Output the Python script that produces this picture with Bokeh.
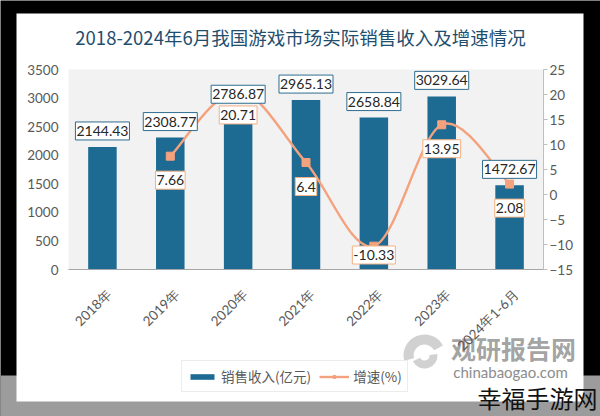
import numpy as np
from bokeh.plotting import figure
from bokeh.models import (Range1d, LinearAxis, FixedTicker, Legend, LegendItem, Label)
from bokeh.core.properties import value
from bokeh.embed import file_html
from bokeh.resources import INLINE

# ---------------- data ----------------
title_text = "2018-2024年6月我国游戏市场实际销售收入及增速情况"
categories = ["2018年", "2019年", "2020年", "2021年", "2022年", "2023年", "2024年1-6月"]
sales = [2144.43, 2308.77, 2786.87, 2965.13, 2658.84, 3029.64, 1472.67]
growth_categories = ["2019年", "2020年", "2021年", "2022年", "2023年", "2024年1-6月"]
growth = [7.66, 20.71, 6.4, -10.33, 13.95, 2.08]
sales_ticks = [0, 500, 1000, 1500, 2000, 2500, 3000, 3500]
growth_ticks = [-15, -10, -5, 0, 5, 10, 15, 20, 25]
sales_name = "销售收入(亿元)"
growth_name = "增速(%)"
watermark_1 = "观研报告网"
watermark_2 = "chinabaogao.com"
watermark_3 = "幸福手游网"

# ---------------- styles / layout ----------------
BAR = "#1D6A93"
LINE = "#F4A27E"
TXT = "#595959"
LAT = "Lato"
CJK = "Noto Sans CJK SC"
W, H = 600, 416                      # canvas = whole page
PL, PR, PT, PB = 68, 543, 69, 269    # plot area in page pixels
ncat = len(categories)
cw = (PR - PL) / ncat
s_lo, s_hi = sales_ticks[0], sales_ticks[-1]
g_lo, g_hi = growth_ticks[0], growth_ticks[-1]

def X(px):  # page x -> x data
    return (px - PL) / cw - 0.5

def Y(py):  # page y -> sales data
    return s_lo + (PB - py) * (s_hi - s_lo) / (PB - PT)

def G(py):  # page y -> growth data
    return g_lo + (PB - py) * (g_hi - g_lo) / (PB - PT)

def SX(px):  # page x -> screen units
    return px

def SY(py):  # page y -> screen units (from bottom)
    return H - py

p = figure(width=W, height=H,
           x_range=Range1d(X(0), X(W)),
           y_range=Range1d(Y(H), Y(0)),
           output_backend="svg", toolbar_location=None,
           min_border=0, min_border_left=0, min_border_right=0,
           min_border_top=0, min_border_bottom=0,
           background_fill_color="black", border_fill_color="black",
           outline_line_color=None)
p.extra_y_ranges = {"g": Range1d(G(H), G(0))}
p.xgrid.visible = False
p.ygrid.visible = False

# frame decoration: grey band, white card, grey plot area
p.quad(left=X(0), right=X(W), bottom=Y(H), top=Y(375),
       fill_color="#9C9C9C", line_color=None)
p.quad(left=X(16), right=X(583), bottom=Y(401), top=Y(13),
       fill_color="white", line_color=None)
p.quad(left=-0.5, right=ncat - 0.5, bottom=s_lo, top=s_hi,
       fill_color="#F2F2F2", line_color=None)

# left axis
ly = p.yaxis[0]
ly.fixed_location = -0.5
ly.bounds = (s_lo, s_hi)
ly.ticker = FixedTicker(ticks=sales_ticks)
ly.axis_line_color = None
ly.major_tick_line_color = None
ly.minor_tick_line_color = None
ly.major_tick_out = 0
ly.major_tick_in = 0
ly.major_label_standoff = 10
ly.major_label_text_font = LAT
ly.major_label_text_font_size = "13.5px"
ly.major_label_text_color = TXT

# right axis
ry = LinearAxis(y_range_name="g", ticker=FixedTicker(ticks=growth_ticks),
                fixed_location=ncat - 0.5, bounds=(g_lo, g_hi))
ry.axis_line_color = "#BFBFBF"
ry.major_tick_line_color = "#BFBFBF"
ry.minor_tick_line_color = None
ry.major_tick_in = 0
ry.major_tick_out = 4
ry.major_label_standoff = 2
ry.major_label_text_font = LAT
ry.major_label_text_font_size = "13.5px"
ry.major_label_text_color = TXT
p.add_layout(ry, "right")

# bottom axis (labels nudged right a little, like the reference)
xs = list(range(ncat))
lab_pos = [i + 0.1 for i in xs]
xa = p.xaxis[0]
xa.fixed_location = s_lo
xa.bounds = (-0.5, ncat - 0.5)
xa.ticker = FixedTicker(ticks=lab_pos)
xa.major_label_overrides = {t: c for t, c in zip(lab_pos, categories)}
xa.axis_line_color = "#A6A6A6"
xa.major_tick_line_color = None
xa.minor_tick_line_color = None
xa.major_tick_out = 0
xa.major_tick_in = 0
xa.major_label_orientation = np.pi / 4
xa.major_label_standoff = 22
xa.major_label_text_font = LAT
xa.major_label_text_font_size = "13.5px"
xa.major_label_text_color = TXT

# bars
bars = p.vbar(x=xs, top=sales, width=0.42, fill_color=BAR, line_color=None)

# smooth growth curve (cubic Bezier through the data points)
gx = np.array([categories.index(c) for c in growth_categories], dtype=float)
gy = np.array(growth, dtype=float)
n = len(gx)
x0s, y0s, x1s, y1s, cx0, cy0, cx1, cy1 = [], [], [], [], [], [], [], []
for i in range(n - 1):
    pxm, pym = (gx[i - 1], gy[i - 1]) if i > 0 else (gx[i], gy[i])
    pxp, pyp = (gx[i + 2], gy[i + 2]) if i + 2 < n else (gx[i + 1], gy[i + 1])
    x0s.append(gx[i]); y0s.append(gy[i]); x1s.append(gx[i + 1]); y1s.append(gy[i + 1])
    cx0.append(gx[i] + (gx[i + 1] - pxm) / 6); cy0.append(gy[i] + (gy[i + 1] - pym) / 6)
    cx1.append(gx[i + 1] - (pxp - gx[i]) / 6); cy1.append(gy[i + 1] - (pyp - gy[i]) / 6)
p.bezier(x0=x0s, y0=y0s, x1=x1s, y1=y1s, cx0=cx0, cy0=cy0, cx1=cx1, cy1=cy1,
         line_color=LINE, line_width=2.4, y_range_name="g")
line_r = p.line(x=gx, y=gy, line_color=LINE, line_width=2.4,
                y_range_name="g", visible=False)
pts = p.scatter(x=gx, y=gy, marker="square", size=8,
                fill_color=LINE, line_color=LINE, y_range_name="g")

# value labels for bars
p.text(x=xs, y=sales, text=[f"{v:.2f}" for v in sales],
       y_offset=-16, anchor="center", text_align="center", text_baseline="middle",
       text_font=value(LAT), text_font_size="14px", text_color="#262626",
       background_fill_color="white", border_line_color="#2E6C8E",
       border_line_width=1, padding=(1, 4))

# value labels for growth
g_lab_y = np.maximum(gy - 4.8, g_lo + 2.9)
p.text(x=gx, y=g_lab_y, text=[f"{v:g}" for v in growth],
       anchor="center", text_align="center", text_baseline="middle",
       text_font=value(LAT), text_font_size="14px", text_color="#262626",
       background_fill_color="white", border_line_color="#F4B183",
       border_line_width=1, padding=(1, 4), y_range_name="g")

# title
p.add_layout(Label(x=SX(300), y=SY(36), x_units="screen", y_units="screen",
                   text=title_text, text_align="center", text_baseline="middle",
                   text_font=CJK, text_font_size="18.5px", text_color="#1F4E6E"))

# legend
legend = Legend(items=[LegendItem(label=sales_name, renderers=[bars]),
                       LegendItem(label=growth_name, renderers=[line_r, pts])],
                location=(SX(181), SY(392)), orientation="horizontal",
                glyph_width=30, glyph_height=7, label_standoff=4, spacing=8,
                padding=5, margin=0, border_line_color="#D9D9D9",
                label_text_font=CJK, label_text_font_size="13.5px",
                label_text_color=TXT, background_fill_color="white")
p.add_layout(legend)

# watermarks
p.annular_wedge(x=[X(424)], y=[Y(355)], inner_radius=11, outer_radius=21,
                inner_radius_units="screen", outer_radius_units="screen",
                start_angle=0.5, end_angle=3.4, fill_color="#9A9A9A", fill_alpha=0.45,
                line_color=None)
p.annular_wedge(x=[X(424)], y=[Y(355)], inner_radius=5, outer_radius=13,
                inner_radius_units="screen", outer_radius_units="screen",
                start_angle=3.6, end_angle=6.4, fill_color="#9A9A9A", fill_alpha=0.45,
                line_color=None)
p.add_layout(Label(x=SX(513), y=SY(347), x_units="screen", y_units="screen",
                   text=watermark_1, text_align="center", text_baseline="middle",
                   text_font=CJK, text_font_style="bold", text_font_size="25px",
                   text_color="#555555", text_alpha=0.55))
p.add_layout(Label(x=SX(510), y=SY(371), x_units="screen", y_units="screen",
                   text=watermark_2, text_align="center", text_baseline="middle",
                   text_font=LAT, text_font_size="15px", text_color="#8C8C8C"))
p.add_layout(Label(x=SX(537), y=SY(397), x_units="screen", y_units="screen",
                   text=watermark_3, text_align="center", text_baseline="middle",
                   text_font=CJK, text_font_size="24px", text_color="#111111"))

open("out.html", "w").write(file_html(p, INLINE))
